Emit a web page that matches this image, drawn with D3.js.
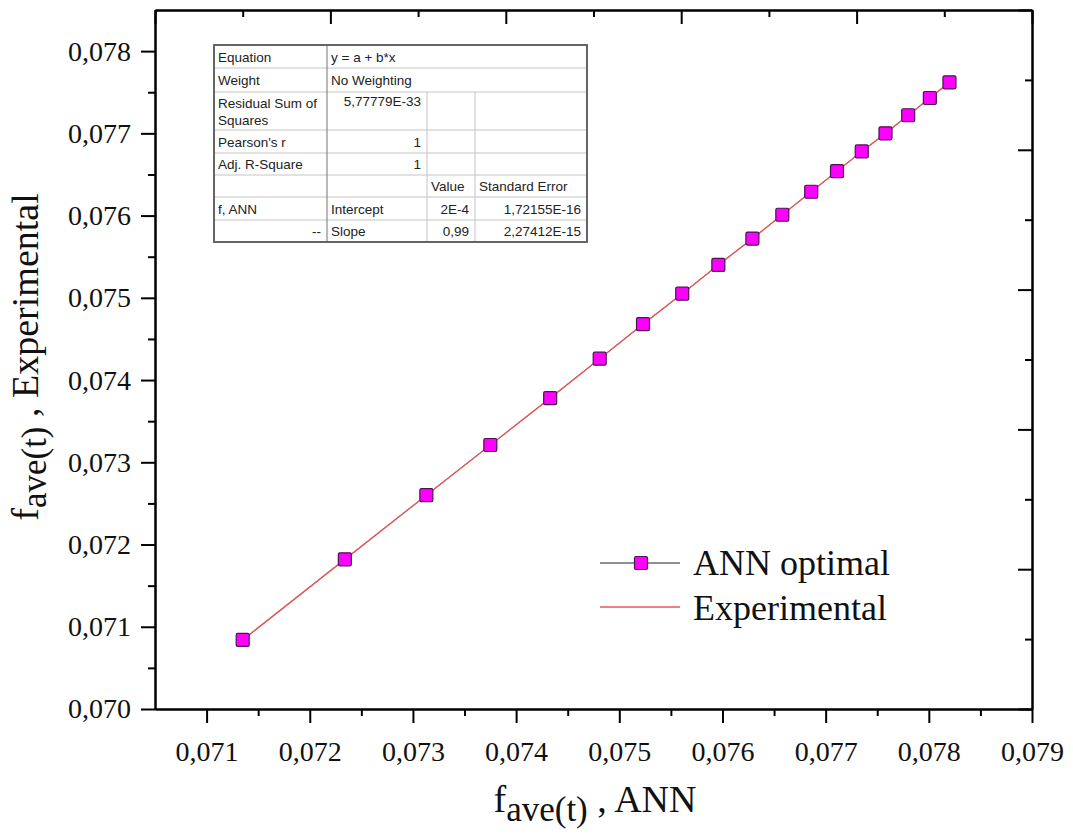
<!DOCTYPE html>
<html>
<head>
<meta charset="utf-8">
<script src="https://cdn.jsdelivr.net/npm/d3@7"></script>
<style>
  body { margin: 0; background: #fff; }
  svg { display: block; }
</style>
</head>
<body>
<svg id="chart" width="1073" height="834"></svg>
<script>
// f_ave(t) predicted by the ANN (x) against the experimental value (y)
const annOptimal = [0.07135, 0.07234, 0.07313, 0.07375, 0.07433, 0.07481, 0.07523, 0.07561, 0.07596,
                    0.07629, 0.07658, 0.07686, 0.07711, 0.07735, 0.07758, 0.07780, 0.07801, 0.07820];
const experimental = [0.07084, 0.07182, 0.07260, 0.07321, 0.07378, 0.07426, 0.07468, 0.07505, 0.07540,
                      0.07572, 0.07601, 0.07629, 0.07654, 0.07678, 0.07700, 0.07722, 0.07743, 0.07762];

const xTicks = [0.071, 0.072, 0.073, 0.074, 0.075, 0.076, 0.077, 0.078, 0.079];
const yTicks = [0.070, 0.071, 0.072, 0.073, 0.074, 0.075, 0.076, 0.077, 0.078];

const legendLabels = ["ANN optimal", "Experimental"];

// linear fit summary (y = a + b*x)
const fitRows = [
  ["Equation", "y = a + b*x"],
  ["Weight", "No Weighting"],
  ["Residual Sum of|Squares", "5,77779E-33", "", ""],
  ["Pearson's r", "1", "", ""],
  ["Adj. R-Square", "1", "", ""],
  ["", "", "Value", "Standard Error"],
  ["f, ANN", "Intercept", "2E-4", "1,72155E-16"],
  ["--", "Slope", "0,99", "2,27412E-15"]
];

const SERIF = "'Liberation Serif', 'Times New Roman', serif";
const SANS = "'Liberation Sans', Arial, sans-serif";
const LINE_RED = "#e2595a";
const MARK_FILL = "#ff00ff";
const MARK_STROKE = "#4b1450";

const svg = d3.select("#chart");
const L = 155, R = 1032, T = 10, B = 709;

const x = d3.scaleLinear().domain([0.0705, 0.079]).range([L, R]);
const y = d3.scaleLinear().domain([0.070, 0.0785]).range([B, T]);
const fmt = v => d3.format(".3f")(v).replace(".", ",");

// minor ticks halfway between majors
const xMinor = xTicks.map(v => v - 0.0005).filter(v => v > 0.0705);
const yMinor = yTicks.map(v => v + 0.0005).filter(v => v < 0.0785);

function styleAxis(g) {
  g.selectAll("path.domain").attr("stroke", "#000").attr("stroke-width", 2);
  g.selectAll(".tick line").attr("stroke", "#000").attr("stroke-width", 2);
}

// bottom axis
const gx = svg.append("g").attr("transform", `translate(0,${B})`)
  .call(d3.axisBottom(x).tickValues(xTicks).tickSize(14).tickSizeOuter(0).tickPadding(18).tickFormat(fmt));
styleAxis(gx);
gx.selectAll("text").attr("font-family", SERIF).attr("font-size", 28).attr("fill", "#111");
const gxm = svg.append("g").attr("transform", `translate(0,${B})`)
  .call(d3.axisBottom(x).tickValues(xMinor).tickSize(7).tickSizeOuter(0).tickFormat(""));
styleAxis(gxm);

// left axis
const gy = svg.append("g").attr("transform", `translate(${L},0)`)
  .call(d3.axisLeft(y).tickValues(yTicks).tickSize(14).tickSizeOuter(0).tickPadding(10).tickFormat(fmt));
styleAxis(gy);
gy.selectAll("text").attr("font-family", SERIF).attr("font-size", 28).attr("fill", "#111");
const gym = svg.append("g").attr("transform", `translate(${L},0)`)
  .call(d3.axisLeft(y).tickValues(yMinor).tickSize(7).tickSizeOuter(0).tickFormat(""));
styleAxis(gym);

// top and right frame axes, unlabelled, ticks pointing inward
const xTop = d3.scaleLinear().domain([0, 5]).range([L, R]);
const yRight = d3.scaleLinear().domain([0, 5]).range([B, T]);
const steps = d3.range(0, 5.01, 1), halfSteps = d3.range(0.5, 5, 1);

const gt = svg.append("g").attr("transform", `translate(0,${T})`)
  .call(d3.axisBottom(xTop).tickValues(steps).tickSize(14).tickSizeOuter(0).tickFormat(""));
styleAxis(gt);
const gtm = svg.append("g").attr("transform", `translate(0,${T})`)
  .call(d3.axisBottom(xTop).tickValues(halfSteps).tickSize(7).tickSizeOuter(0).tickFormat(""));
styleAxis(gtm);

const gr = svg.append("g").attr("transform", `translate(${R},0)`)
  .call(d3.axisLeft(yRight).tickValues(steps).tickSize(14).tickSizeOuter(0).tickFormat(""));
styleAxis(gr);
const grm = svg.append("g").attr("transform", `translate(${R},0)`)
  .call(d3.axisLeft(yRight).tickValues(halfSteps).tickSize(7).tickSizeOuter(0).tickFormat(""));
styleAxis(grm);

// series
const pts = annOptimal.map((v, i) => ({ x: v, y: experimental[i] }));
const line = d3.line().x(d => x(d.x)).y(d => y(d.y));

svg.append("path").datum(pts).attr("d", line)
  .attr("fill", "none").attr("stroke", "#222").attr("stroke-width", 0.8);
svg.append("path").datum(pts).attr("d", line)
  .attr("fill", "none").attr("stroke", LINE_RED).attr("stroke-width", 1.4);

const MS = 13;
svg.append("g").selectAll("rect").data(pts).join("rect")
  .attr("x", d => x(d.x) - MS / 2).attr("y", d => y(d.y) - MS / 2)
  .attr("width", MS).attr("height", MS).attr("rx", 1.5)
  .attr("fill", MARK_FILL).attr("stroke", MARK_STROKE).attr("stroke-width", 1.2);

// axis titles
const xt = svg.append("text").attr("x", 595).attr("y", 812)
  .attr("text-anchor", "middle").attr("font-family", SERIF).attr("font-size", 38).attr("fill", "#111");
xt.append("tspan").text("f");
xt.append("tspan").attr("font-size", 35).attr("dy", 9).text("ave(t)");
xt.append("tspan").attr("dy", -9).text(" , ANN");

const yt = svg.append("text").attr("transform", "translate(38,357) rotate(-90)")
  .attr("text-anchor", "middle").attr("font-family", SERIF).attr("font-size", 38).attr("fill", "#111");
yt.append("tspan").text("f");
yt.append("tspan").attr("font-size", 35).attr("dy", 8).text("ave(t)");
yt.append("tspan").attr("dy", -8).text(" , Experimental");

// legend
const lg = svg.append("g");
lg.append("line").attr("x1", 600).attr("x2", 680).attr("y1", 563).attr("y2", 563)
  .attr("stroke", "#222").attr("stroke-width", 1);
lg.append("rect").attr("x", 641 - MS / 2).attr("y", 563 - MS / 2).attr("width", MS).attr("height", MS)
  .attr("rx", 1.5).attr("fill", MARK_FILL).attr("stroke", MARK_STROKE).attr("stroke-width", 1.2);
lg.append("line").attr("x1", 600).attr("x2", 680).attr("y1", 607).attr("y2", 607)
  .attr("stroke", LINE_RED).attr("stroke-width", 1.4);
lg.selectAll("text").data(legendLabels).join("text")
  .attr("x", 693).attr("y", (d, i) => 575 + i * 45)
  .attr("font-family", SERIF).attr("font-size", 36).attr("fill", "#111").text(d => d);

// fit summary table
const colX = [214, 327, 427, 475, 587];
const rowY = [45, 68, 92, 130, 153, 175, 197, 220, 242];
const tbl = svg.append("g");
tbl.append("rect").attr("x", colX[0]).attr("y", rowY[0])
  .attr("width", colX[4] - colX[0]).attr("height", rowY[8] - rowY[0]).attr("fill", "#fff");

// horizontal rules
tbl.selectAll("line.h").data(rowY.slice(1, -1)).join("line").attr("class", "h")
  .attr("x1", colX[0]).attr("x2", colX[4]).attr("y1", d => d).attr("y2", d => d)
  .attr("stroke", "#c4c4c4").attr("stroke-width", 1);
// vertical rules: first divider runs full height, the others start below the merged rows
tbl.append("line").attr("x1", colX[1]).attr("x2", colX[1]).attr("y1", rowY[0]).attr("y2", rowY[8])
  .attr("stroke", "#8a8a8a").attr("stroke-width", 1.2);
tbl.selectAll("line.v").data([colX[2], colX[3]]).join("line").attr("class", "v")
  .attr("x1", d => d).attr("x2", d => d).attr("y1", rowY[2]).attr("y2", rowY[8])
  .attr("stroke", "#c4c4c4").attr("stroke-width", 1);
tbl.append("rect").attr("x", colX[0]).attr("y", rowY[0])
  .attr("width", colX[4] - colX[0]).attr("height", rowY[8] - rowY[0])
  .attr("fill", "none").attr("stroke", "#555").attr("stroke-width", 1.8);

const rightAligned = (r, c) => (c === 0 && r === 7) || (c === 1 && r >= 2 && r <= 4) || (c >= 2 && r >= 6);
fitRows.forEach((row, r) => {
  row.forEach((txt, c) => {
    if (!txt) return;
    const lines = txt.split("|");
    const right = rightAligned(r, c);
    const xPos = right ? colX[c + 1] - 6 : colX[c] + 4;
    let base = (rowY[r] + rowY[r + 1]) / 2 + 5;
    if (r === 2) base = c === 0 ? 108 : 106;
    lines.forEach((ln, k) => {
      tbl.append("text").attr("x", xPos).attr("y", base + k * 17)
        .attr("text-anchor", right ? "end" : "start")
        .attr("font-family", SANS).attr("font-size", 13.5).attr("fill", "#222").text(ln);
    });
  });
});
</script>
</body>
</html>
